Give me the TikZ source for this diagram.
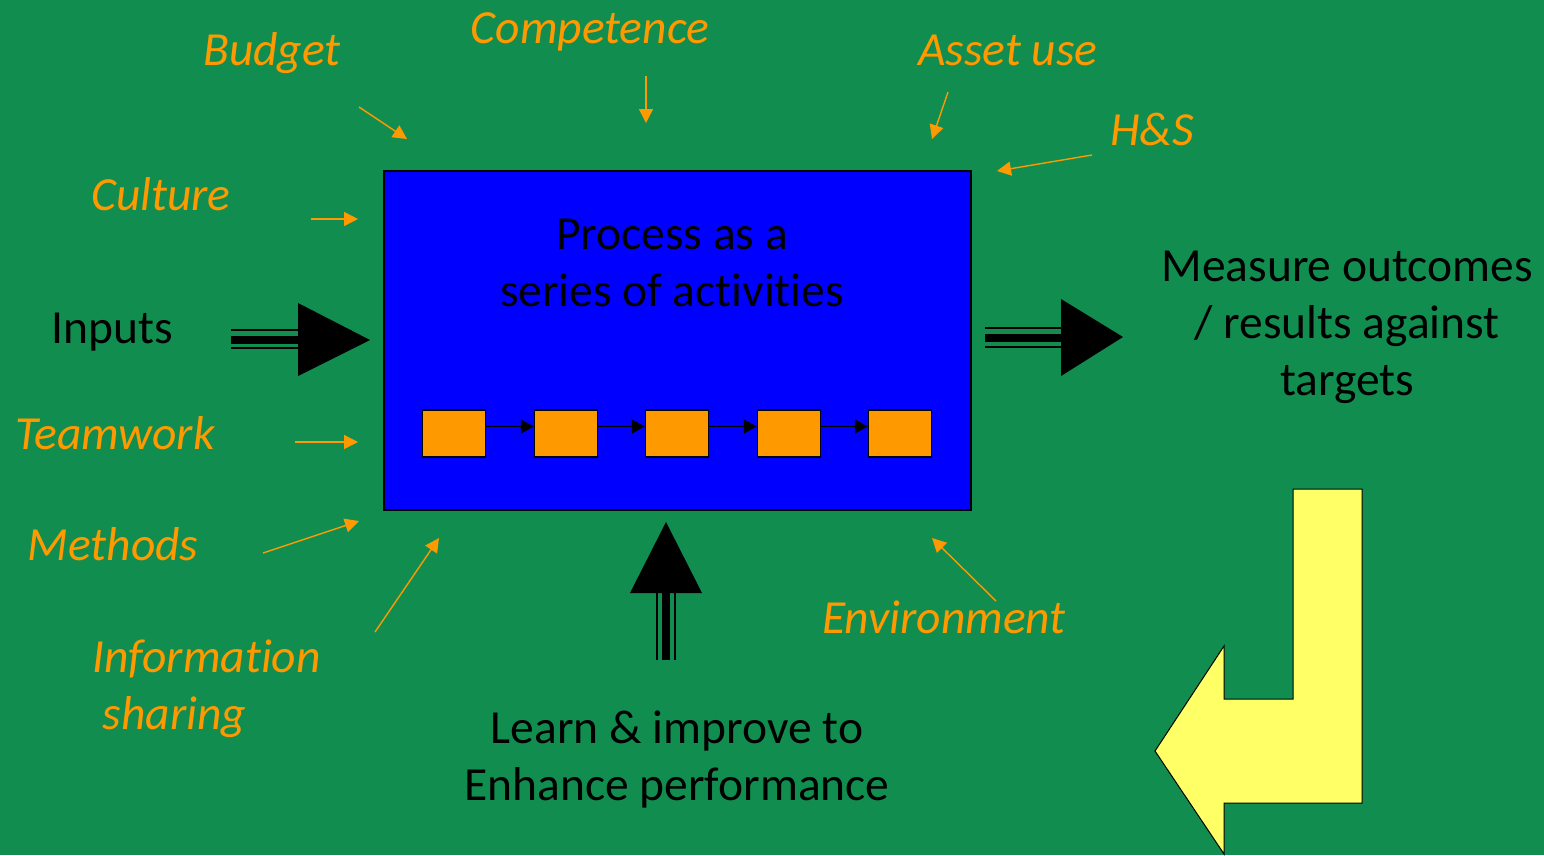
\documentclass[tikz,border=0pt]{standalone}
\usepackage{fontspec}
\setmainfont{Carlito}[Ligatures=NoCommon]
\usetikzlibrary{arrows.meta}

\definecolor{bggreen}{RGB}{17,141,79}
\definecolor{procblue}{RGB}{0,0,255}
\definecolor{steporange}{RGB}{255,153,0}
\definecolor{backyellow}{RGB}{255,255,102}

\tikzset{
  factor/.style={text=steporange, font=\fontsize{47.5}{57}\selectfont\itshape,
    inner sep=0pt, anchor=base},
  main/.style={text=black, font=\fontsize{47.5}{57}\selectfont,
    inner sep=0pt, anchor=base, align=center},
  feed/.style={steporange, line width=1.4pt,
    -{Triangle[length=14pt,width=14pt]}},
  stepbox/.style={draw=black, line width=1.5pt, fill=steporange,
    minimum width=63pt, minimum height=47pt, inner sep=0pt},
  link/.style={black, line width=1.5pt, -{Triangle[length=13pt,width=14pt]}},
  shaftout/.style={line width=2pt, double=bggreen, double distance=16pt},
  shaftin/.style={line width=8pt},
}

\begin{document}
\begin{tikzpicture}[x=1pt,y=-1pt]
\fill[bggreen] (0,0) rectangle (1544,855);
\useasboundingbox (0,0) rectangle (1544,855);

% process box
\node[draw=black, line width=1.2pt, fill=procblue, minimum width=587pt,
  minimum height=339pt, inner sep=0pt] (process) at (677.5,340.5) {};
\node[main] (proctext) at (672,306) {Process as a\\series of activities};

% chain of activities
\foreach \i/\xx in {1/454,2/566,3/677,4/789,5/900}
  \node[stepbox] (s\i) at (\xx,433.5) {};
\foreach \i [evaluate=\i as \j using int(\i+1)] in {1,...,4}
  \draw[link] ([yshift=7pt]s\i.east) -- ([yshift=7pt]s\j.west);

% factors acting on the process
\node[factor] (budget) at (272,65) {Budget};
\node[factor] (competence) at (590,43) {Competence};
\node[factor] (assetuse) at (1008,65) {Asset use};
\node[factor] (hs) at (1152,145) {H\&S};
\node[factor] (culture) at (161,210) {Culture};
\node[factor] (teamwork) at (115,449) {Teamwork};
\node[factor] (methods) at (113,560) {Methods};
\node[factor, anchor=base west, align=left] (info) at (92,729)
  {Information\\~sharing};
\node[factor] (environment) at (944,633) {Environment};

\coordinate (budget-a) at (359,107);  \coordinate (budget-b) at (407,139);
\coordinate (comp-a) at (646,76);     \coordinate (comp-b) at (646,123);
\coordinate (asset-a) at (948,92);    \coordinate (asset-b) at (932,139);
\coordinate (hs-a) at (1092,155);     \coordinate (hs-b) at (997,171);
\coordinate (culture-a) at (311,219); \coordinate (culture-b) at (358,219);
\coordinate (team-a) at (295,442);    \coordinate (team-b) at (358,442);
\coordinate (meth-a) at (263,553);    \coordinate (meth-b) at (359,521);
\coordinate (info-a) at (375,632);    \coordinate (info-b) at (439,538);
\coordinate (env-a) at (996,601);     \coordinate (env-b) at (932,538);
\foreach \f in {budget,comp,asset,hs,culture,team,meth,info,env}
  \draw[feed] (\f-a) -- (\f-b);

% inputs
\node[main] (inputs) at (112,343) {Inputs};
\coordinate (in-tail) at (231,339);
\coordinate (in-neck) at (300,339);
\draw[shaftout] (in-tail) -- (in-neck);
\draw[shaftin] ([yshift=-1pt]in-tail) -- ([yshift=-1pt]in-neck);
\fill[black] (298,303) -- (370,340) -- (298,376) -- cycle;

% outcomes
\node[main] (measure) at (1347,395) {Measure outcomes\\/ results against\\targets};
\coordinate (out-tail) at (985,337.5);
\coordinate (out-neck) at (1063,337.5);
\draw[shaftout, double distance=17pt] (out-tail) -- (out-neck);
\draw[shaftin] (out-tail) -- (out-neck);
\fill[black] (1061,299) -- (1123,337) -- (1061,376) -- cycle;

% learning
\node[main] (learn) at (677,800) {Learn \& improve to\\Enhance performance};
\coordinate (up-tail) at (666,660);
\coordinate (up-neck) at (666,591);
\draw[shaftout] (up-tail) -- (up-neck);
\draw[shaftin] (up-tail) -- (up-neck);
\fill[black] (630,593) -- (666,522) -- (702,593) -- cycle;

% feedback arrow
\filldraw[fill=backyellow, draw=black, line width=1pt]
  (1293,489) -- (1362,489) -- (1362,803) -- (1224,803) -- (1224,854)
  -- (1155,751) -- (1224,646) -- (1224,699) -- (1293,699) -- cycle;
\end{tikzpicture}
\end{document}
